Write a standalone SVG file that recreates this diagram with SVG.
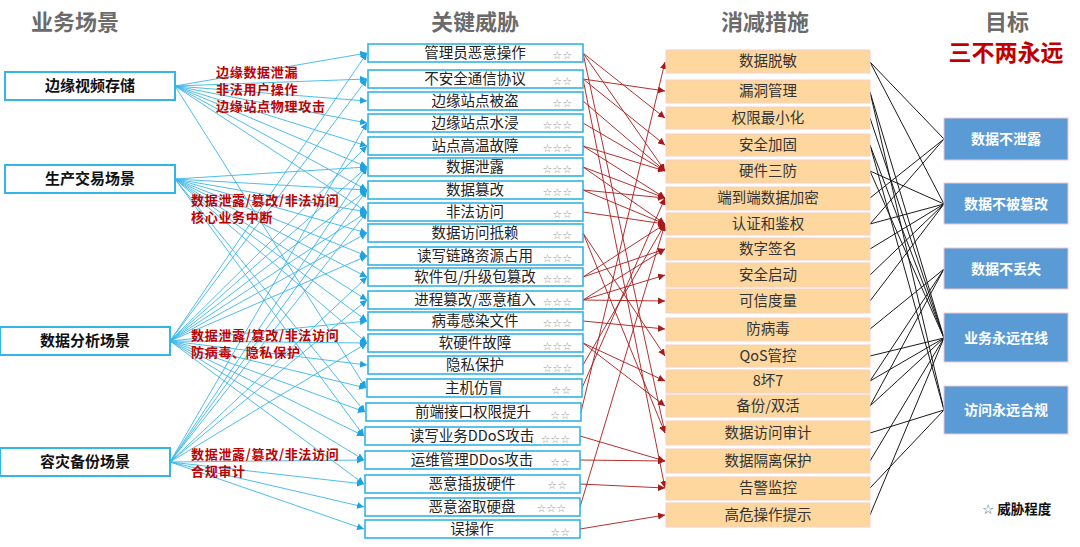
<svg xmlns="http://www.w3.org/2000/svg" width="1080" height="547" viewBox="0 0 1080 547">
<style>
text{font-family:"Noto Sans CJK SC","Liberation Sans",sans-serif}
.hd{font-size:22px;font-weight:bold;fill:#6b6b6b;text-anchor:middle}
.sb{fill:#fff;stroke:#33b5e5;stroke-width:2}
.st{font-size:15px;font-weight:bold;fill:#111;text-anchor:middle}
.rl{font-size:13px;font-weight:bold;fill:#c00000;letter-spacing:0.7px}
.tb{fill:#fff;stroke:#33b5e5;stroke-width:1.6}
.tt{font-size:14.5px;fill:#222;text-anchor:middle}
.sr{font-size:11px;fill:#999;text-anchor:end;font-family:"DejaVu Sans",sans-serif}
.mb{fill:#fdd79e;stroke:#f6cfc4;stroke-width:1}
.mt{font-size:14.5px;fill:#333;text-anchor:middle}
.gb{fill:#5b9bd5;stroke:#f0c8d0;stroke-width:1}
.gt{font-size:14px;font-weight:bold;fill:#fff;text-anchor:middle}
.bl line{stroke:#39b6ea;stroke-width:0.9;marker-end:url(#ab)}
.rd line{stroke:#a81a1a;stroke-width:0.9;marker-end:url(#ar)}
.bk line{stroke:#1a1a1a;stroke-width:1}
</style>
<defs>
<marker id="ab" viewBox="0 0 10 10" refX="10" refY="5" markerWidth="7" markerHeight="7" markerUnits="userSpaceOnUse" orient="auto"><path d="M0,0 L10,5 L0,10z" fill="#1fa3e0"/></marker>
<marker id="ar" viewBox="0 0 10 10" refX="10" refY="5" markerWidth="7" markerHeight="7" markerUnits="userSpaceOnUse" orient="auto"><path d="M0,0 L10,5 L0,10z" fill="#a81a1a"/></marker>
</defs>
<rect width="1080" height="547" fill="#fff"/>

<text class="hd" x="75" y="30">业务场景</text>
<text class="hd" x="475" y="30">关键威胁</text>
<text class="hd" x="765" y="30">消减措施</text>
<text class="hd" x="1007" y="30">目标</text>
<text x="1006" y="61" style="font-size:23px;font-weight:bold;fill:#c00000;text-anchor:middle">三不两永远</text>

<g id="connectors">
<g class="bl">
<line x1="175" y1="86" x2="367" y2="53"/>
<line x1="175" y1="86" x2="367" y2="79"/>
<line x1="175" y1="86" x2="367" y2="101"/>
<line x1="175" y1="86" x2="367" y2="123"/>
<line x1="175" y1="86" x2="367" y2="146"/>
<line x1="175" y1="86" x2="367" y2="167"/>
<line x1="175" y1="86" x2="367" y2="190"/>
<line x1="175" y1="86" x2="367" y2="212"/>
<line x1="175" y1="86" x2="366" y2="388"/>
<line x1="175" y1="179" x2="367" y2="167"/>
<line x1="175" y1="179" x2="367" y2="190"/>
<line x1="175" y1="179" x2="367" y2="212"/>
<line x1="175" y1="179" x2="367" y2="233"/>
<line x1="175" y1="179" x2="367" y2="256"/>
<line x1="175" y1="179" x2="367" y2="277"/>
<line x1="175" y1="179" x2="367" y2="300"/>
<line x1="175" y1="179" x2="367" y2="321"/>
<line x1="175" y1="179" x2="367" y2="343"/>
<line x1="175" y1="179" x2="365" y2="412"/>
<line x1="175" y1="179" x2="364" y2="436"/>
<line x1="170" y1="341" x2="367" y2="53"/>
<line x1="170" y1="341" x2="367" y2="79"/>
<line x1="170" y1="341" x2="367" y2="146"/>
<line x1="170" y1="341" x2="367" y2="167"/>
<line x1="170" y1="341" x2="367" y2="190"/>
<line x1="170" y1="341" x2="367" y2="212"/>
<line x1="170" y1="341" x2="367" y2="233"/>
<line x1="170" y1="341" x2="367" y2="256"/>
<line x1="170" y1="341" x2="367" y2="321"/>
<line x1="170" y1="341" x2="367" y2="343"/>
<line x1="170" y1="341" x2="367" y2="365"/>
<line x1="170" y1="341" x2="366" y2="388"/>
<line x1="170" y1="341" x2="365" y2="412"/>
<line x1="170" y1="341" x2="364" y2="436"/>
<line x1="170" y1="341" x2="364" y2="460"/>
<line x1="170" y1="341" x2="364" y2="484"/>
<line x1="170" y1="462" x2="367" y2="123"/>
<line x1="170" y1="462" x2="367" y2="167"/>
<line x1="170" y1="462" x2="367" y2="190"/>
<line x1="170" y1="462" x2="367" y2="212"/>
<line x1="170" y1="462" x2="367" y2="277"/>
<line x1="170" y1="462" x2="367" y2="300"/>
<line x1="170" y1="462" x2="367" y2="343"/>
<line x1="170" y1="462" x2="364" y2="460"/>
<line x1="170" y1="462" x2="364" y2="484"/>
<line x1="170" y1="462" x2="364" y2="507"/>
<line x1="170" y1="462" x2="364" y2="529"/>
</g>
<g class="rd">
<line x1="583" y1="53" x2="665" y2="118"/>
<line x1="583" y1="53" x2="665" y2="171"/>
<line x1="583" y1="53" x2="665" y2="433"/>
<line x1="583" y1="79" x2="665" y2="91"/>
<line x1="583" y1="79" x2="665" y2="145"/>
<line x1="583" y1="79" x2="665" y2="488"/>
<line x1="583" y1="101" x2="665" y2="171"/>
<line x1="583" y1="123" x2="665" y2="171"/>
<line x1="583" y1="146" x2="665" y2="171"/>
<line x1="583" y1="146" x2="665" y2="198"/>
<line x1="583" y1="167" x2="665" y2="198"/>
<line x1="583" y1="167" x2="665" y2="224"/>
<line x1="583" y1="190" x2="665" y2="198"/>
<line x1="583" y1="190" x2="665" y2="224"/>
<line x1="583" y1="212" x2="665" y2="224"/>
<line x1="583" y1="233" x2="665" y2="356"/>
<line x1="583" y1="233" x2="665" y2="433"/>
<line x1="583" y1="277" x2="665" y2="224"/>
<line x1="583" y1="277" x2="665" y2="249"/>
<line x1="583" y1="300" x2="665" y2="249"/>
<line x1="583" y1="300" x2="665" y2="275"/>
<line x1="583" y1="300" x2="665" y2="301"/>
<line x1="583" y1="321" x2="665" y2="329"/>
<line x1="583" y1="343" x2="665" y2="381"/>
<line x1="583" y1="343" x2="665" y2="406"/>
<line x1="583" y1="365" x2="665" y2="224"/>
<line x1="582" y1="388" x2="665" y2="198"/>
<line x1="581" y1="412" x2="665" y2="62"/>
<line x1="580" y1="436" x2="665" y2="461"/>
<line x1="580" y1="460" x2="665" y2="461"/>
<line x1="580" y1="484" x2="665" y2="488"/>
<line x1="580" y1="507" x2="665" y2="224"/>
<line x1="580" y1="529" x2="665" y2="515"/>
</g>
<g class="bk">
<line x1="870" y1="62" x2="944" y2="139"/>
<line x1="870" y1="62" x2="944" y2="204"/>
<line x1="870" y1="92" x2="944" y2="338"/>
<line x1="870" y1="92" x2="944" y2="410"/>
<line x1="870" y1="118" x2="944" y2="338"/>
<line x1="870" y1="145" x2="944" y2="338"/>
<line x1="870" y1="145" x2="944" y2="410"/>
<line x1="870" y1="171" x2="944" y2="204"/>
<line x1="870" y1="171" x2="944" y2="338"/>
<line x1="870" y1="198" x2="944" y2="139"/>
<line x1="870" y1="224" x2="944" y2="139"/>
<line x1="870" y1="224" x2="944" y2="204"/>
<line x1="870" y1="249" x2="944" y2="204"/>
<line x1="870" y1="275" x2="944" y2="204"/>
<line x1="870" y1="301" x2="944" y2="204"/>
<line x1="870" y1="329" x2="944" y2="269"/>
<line x1="870" y1="356" x2="944" y2="338"/>
<line x1="870" y1="381" x2="944" y2="338"/>
<line x1="870" y1="381" x2="944" y2="269"/>
<line x1="870" y1="406" x2="944" y2="338"/>
<line x1="870" y1="406" x2="944" y2="269"/>
<line x1="870" y1="433" x2="944" y2="410"/>
<line x1="870" y1="461" x2="944" y2="338"/>
<line x1="870" y1="488" x2="944" y2="410"/>
<line x1="870" y1="515" x2="944" y2="338"/>
</g>
</g>

<g id="s1"><rect class="sb" x="5" y="72" width="170" height="28"/><text class="st" x="90" y="91">边缘视频存储</text></g>
<g id="s2"><rect class="sb" x="5" y="165" width="170" height="28"/><text class="st" x="90" y="184">生产交易场景</text></g>
<g id="s3"><rect class="sb" x="0" y="327" width="170" height="28"/><text class="st" x="85" y="346">数据分析场景</text></g>
<g id="s4"><rect class="sb" x="0" y="448" width="170" height="28"/><text class="st" x="85" y="467">容灾备份场景</text></g>

<g id="labels">
<text class="rl" x="216" y="77">边缘数据泄漏</text>
<text class="rl" x="216" y="94">非法用户操作</text>
<text class="rl" x="216" y="111">边缘站点物理攻击</text>
<text class="rl" x="191" y="205">数据泄露/篡改/非法访问</text>
<text class="rl" x="191" y="222">核心业务中断</text>
<text class="rl" x="191" y="340">数据泄露/篡改/非法访问</text>
<text class="rl" x="191" y="357">防病毒、隐私保护</text>
<text class="rl" x="191" y="459">数据泄露/篡改/非法访问</text>
<text class="rl" x="191" y="476">合规审计</text>
</g>

<g id="t1"><rect class="tb" x="368" y="44" width="215" height="18"/><text class="tt" x="475" y="58">管理员恶意操作</text><text class="sr" x="572" y="59">☆☆</text></g>
<g id="t2"><rect class="tb" x="368" y="70" width="215" height="18"/><text class="tt" x="475" y="84">不安全通信协议</text><text class="sr" x="572" y="85">☆☆</text></g>
<g id="t3"><rect class="tb" x="368" y="92" width="215" height="18"/><text class="tt" x="475" y="106">边缘站点被盗</text><text class="sr" x="572" y="107">☆☆</text></g>
<g id="t4"><rect class="tb" x="368" y="114" width="215" height="18"/><text class="tt" x="475" y="128">边缘站点水浸</text><text class="sr" x="572" y="129">☆☆☆</text></g>
<g id="t5"><rect class="tb" x="368" y="137" width="215" height="18"/><text class="tt" x="475" y="151">站点高温故障</text><text class="sr" x="572" y="152">☆☆☆</text></g>
<g id="t6"><rect class="tb" x="368" y="158" width="215" height="18"/><text class="tt" x="475" y="172">数据泄露</text><text class="sr" x="572" y="173">☆☆☆</text></g>
<g id="t7"><rect class="tb" x="368" y="181" width="215" height="18"/><text class="tt" x="475" y="195">数据篡改</text><text class="sr" x="572" y="196">☆☆☆</text></g>
<g id="t8"><rect class="tb" x="368" y="203" width="215" height="18"/><text class="tt" x="475" y="217">非法访问</text><text class="sr" x="572" y="218">☆☆</text></g>
<g id="t9"><rect class="tb" x="368" y="224" width="215" height="18"/><text class="tt" x="475" y="238">数据访问抵赖</text><text class="sr" x="572" y="239">☆☆</text></g>
<g id="t10"><rect class="tb" x="368" y="247" width="215" height="18"/><text class="tt" x="475" y="261">读写链路资源占用</text><text class="sr" x="572" y="262">☆☆☆</text></g>
<g id="t11"><rect class="tb" x="368" y="268" width="215" height="18"/><text class="tt" x="475" y="282">软件包/升级包篡改</text><text class="sr" x="572" y="283">☆☆☆</text></g>
<g id="t12"><rect class="tb" x="368" y="291" width="215" height="18"/><text class="tt" x="475" y="305">进程篡改/恶意植入</text><text class="sr" x="572" y="306">☆☆☆</text></g>
<g id="t13"><rect class="tb" x="368" y="312" width="215" height="18"/><text class="tt" x="475" y="326">病毒感染文件</text><text class="sr" x="572" y="327">☆☆☆</text></g>
<g id="t14"><rect class="tb" x="368" y="334" width="215" height="18"/><text class="tt" x="475" y="348">软硬件故障</text><text class="sr" x="572" y="350">☆☆☆</text></g>
<g id="t15"><rect class="tb" x="368" y="356" width="215" height="18"/><text class="tt" x="475" y="370">隐私保护</text><text class="sr" x="572" y="372">☆☆☆</text></g>
<g id="t16"><rect class="tb" x="367" y="379" width="215" height="18"/><text class="tt" x="474" y="393">主机仿冒</text><text class="sr" x="571" y="394">☆☆</text></g>
<g id="t17"><rect class="tb" x="366" y="403" width="215" height="18"/><text class="tt" x="473" y="417">前端接口权限提升</text><text class="sr" x="570" y="419">☆☆</text></g>
<g id="t18"><rect class="tb" x="365" y="427" width="215" height="18"/><text class="tt" x="472" y="441">读写业务DDoS攻击</text><text class="sr" x="570" y="443">☆☆☆</text></g>
<g id="t19"><rect class="tb" x="365" y="451" width="215" height="18"/><text class="tt" x="472" y="465">运维管理DDos攻击</text><text class="sr" x="570" y="466">☆☆</text></g>
<g id="t20"><rect class="tb" x="365" y="475" width="215" height="18"/><text class="tt" x="472" y="489">恶意插拔硬件</text><text class="sr" x="567" y="489">☆☆</text></g>
<g id="t21"><rect class="tb" x="365" y="498" width="215" height="18"/><text class="tt" x="472" y="512">恶意盗取硬盘</text><text class="sr" x="566" y="512">☆☆☆</text></g>
<g id="t22"><rect class="tb" x="365" y="520" width="215" height="18"/><text class="tt" x="472" y="534">误操作</text><text class="sr" x="570" y="536">☆☆</text></g>

<g id="m1"><rect class="mb" x="666" y="50" width="204" height="23"/><text class="mt" x="768" y="66">数据脱敏</text></g>
<g id="m2"><rect class="mb" x="666" y="80" width="204" height="23"/><text class="mt" x="768" y="96">漏洞管理</text></g>
<g id="m3"><rect class="mb" x="666" y="107" width="204" height="22"/><text class="mt" x="768" y="123">权限最小化</text></g>
<g id="m4"><rect class="mb" x="666" y="134" width="204" height="22"/><text class="mt" x="768" y="150">安全加固</text></g>
<g id="m5"><rect class="mb" x="666" y="160" width="204" height="23"/><text class="mt" x="768" y="176">硬件三防</text></g>
<g id="m6"><rect class="mb" x="666" y="187" width="204" height="23"/><text class="mt" x="768" y="203">端到端数据加密</text></g>
<g id="m7"><rect class="mb" x="666" y="213" width="204" height="22"/><text class="mt" x="768" y="229">认证和鉴权</text></g>
<g id="m8"><rect class="mb" x="666" y="238" width="204" height="22"/><text class="mt" x="768" y="254">数字签名</text></g>
<g id="m9"><rect class="mb" x="666" y="263" width="204" height="24"/><text class="mt" x="768" y="280">安全启动</text></g>
<g id="m10"><rect class="mb" x="666" y="289" width="204" height="24"/><text class="mt" x="768" y="306">可信度量</text></g>
<g id="m11"><rect class="mb" x="666" y="318" width="204" height="23"/><text class="mt" x="768" y="334">防病毒</text></g>
<g id="m12"><rect class="mb" x="666" y="345" width="204" height="22"/><text class="mt" x="768" y="361">QoS管控</text></g>
<g id="m13"><rect class="mb" x="666" y="370" width="204" height="23"/><text class="mt" x="768" y="386">8坏7</text></g>
<g id="m14"><rect class="mb" x="666" y="395" width="204" height="22"/><text class="mt" x="768" y="411">备份/双活</text></g>
<g id="m15"><rect class="mb" x="666" y="421" width="204" height="24"/><text class="mt" x="768" y="438">数据访问审计</text></g>
<g id="m16"><rect class="mb" x="666" y="449" width="204" height="24"/><text class="mt" x="768" y="466">数据隔离保护</text></g>
<g id="m17"><rect class="mb" x="666" y="477" width="204" height="23"/><text class="mt" x="768" y="493">告警监控</text></g>
<g id="m18"><rect class="mb" x="666" y="503" width="204" height="24"/><text class="mt" x="768" y="520">高危操作提示</text></g>

<g id="g1"><rect class="gb" x="944" y="118" width="124" height="42"/><text class="gt" x="1006" y="144">数据不泄露</text></g>
<g id="g2"><rect class="gb" x="944" y="183" width="124" height="41"/><text class="gt" x="1006" y="209">数据不被篡改</text></g>
<g id="g3"><rect class="gb" x="944" y="248" width="124" height="41"/><text class="gt" x="1006" y="274">数据不丢失</text></g>
<g id="g4"><rect class="gb" x="944" y="313" width="124" height="49"/><text class="gt" x="1006" y="343">业务永远在线</text></g>
<g id="g5"><rect class="gb" x="944" y="386" width="124" height="48"/><text class="gt" x="1006" y="415">访问永远合规</text></g>

<g id="legend"><text x="982" y="514" style="font-size:13.5px;font-weight:bold;fill:#111"><tspan style="font-family:'DejaVu Sans',sans-serif;font-weight:normal;fill:#555">☆</tspan> 威胁程度</text></g>
</svg>
